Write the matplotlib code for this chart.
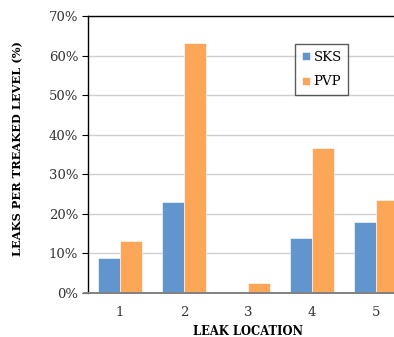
import numpy as np
import matplotlib
matplotlib.use("Agg")
from matplotlib import pyplot as plt
from matplotlib.ticker import FuncFormatter

locations = ["1", "2", "3", "4", "5"]
sks = [8.9, 22.9, 0.0, 14.0, 17.9]
pvp = [13.1, 63.1, 2.6, 36.6, 23.5]

blue = "#6096cd"
orange = "#fea658"

fig = plt.figure(figsize=(3.94, 3.37), dpi=100)
# axes runs past the right edge, as in the reference
ax = fig.add_axes([88 / 394, (337 - 293) / 337, 320 / 394, 277 / 337])

x = np.arange(len(locations))
w = 0.345
ax.bar(x - w / 2, sks, w, color=blue, edgecolor="white", linewidth=0.4, label="SKS", zorder=3)
ax.bar(x + w / 2, pvp, w, color=orange, edgecolor="white", linewidth=0.4, label="PVP", zorder=3)

ax.set_xlim(-0.5, 4.5)
ax.set_ylim(0, 70)
ax.set_yticks(np.arange(0, 71, 10))
ax.yaxis.set_major_formatter(FuncFormatter(lambda v, p: "%d%%" % v))
ax.set_xticks(x)
ax.set_xticklabels(locations)

ax.grid(axis="y", color="#d0d0d0", linewidth=1, zorder=0)
for s in ["top", "left"]:
    ax.spines[s].set_color("black")
    ax.spines[s].set_linewidth(1)
ax.spines["right"].set_visible(False)
ax.spines["bottom"].set_visible(False)
# grey zero line, a bit past the y axis
ax.axhline(0, xmin=-0.012, xmax=1, color="#808080", linewidth=1.4, clip_on=False, zorder=4)

ax.tick_params(axis="y", length=4, width=0.8, color="black", pad=3, labelsize=9.5, labelcolor="#333333")
ax.tick_params(axis="x", length=0, pad=9, labelsize=9.5, labelcolor="#333333")
for lab in ax.get_xticklabels() + ax.get_yticklabels():
    lab.set_family("DejaVu Serif")

ax.set_xlabel("LEAK LOCATION", family="DejaVu Serif", fontweight="bold", fontsize=8.3, labelpad=5)
fig.text(18 / 394, 0.56, "LEAKS PER TREAKED LEVEL (%)", rotation=90, ha="center", va="center",
         family="DejaVu Serif", fontweight="bold", fontsize=8.2)

leg = ax.legend(loc="upper left", bbox_to_anchor=((295 - 88) / 320, (293 - 44) / 277),
                frameon=True, fancybox=False, handlelength=0.6, handleheight=0.6,
                handletextpad=0.3, labelspacing=0.9, borderpad=0.5, borderaxespad=0,
                prop={"family": "DejaVu Serif", "size": 9.5})
leg.get_frame().set_edgecolor("#333333")
leg.get_frame().set_linewidth(1)

fig.savefig("out.png", dpi=100)
